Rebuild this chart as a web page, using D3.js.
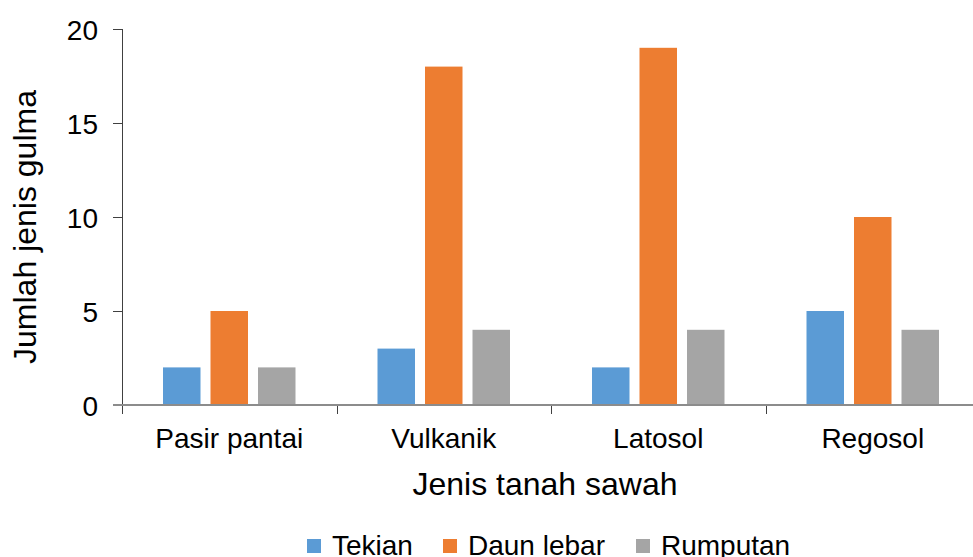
<!DOCTYPE html>
<html>
<head>
<meta charset="utf-8">
<script src="https://cdn.jsdelivr.net/npm/d3@7"></script>
<style>
  body { margin: 0; background: #fff; }
  svg text { font-family: "Liberation Sans", Arial, sans-serif; fill: #000; }
</style>
</head>
<body>
<div id="chart"></div>
<script>
// data
var categories = ["Pasir pantai", "Vulkanik", "Latosol", "Regosol"];
var seriesNames = ["Tekian", "Daun lebar", "Rumputan"];
var tekian = [2, 3, 2, 5];
var daunLebar = [5, 18, 19, 10];
var rumputan = [2, 4, 4, 4];
var yTicks = [0, 5, 10, 15, 20];
var colors = ["#5B9BD5", "#ED7D31", "#A5A5A5"];

var svgWidth = 973;
var svgHeight = 557;
var margin = {top: 29, left: 122, bottom: 152};
var plotBottom = svgHeight - margin.bottom; // 405

var svg = d3.select("#chart")
  .append("svg")
  .attr("width", svgWidth)
  .attr("height", svgHeight);

// build rows for the bars
var rows = [];
categories.forEach(function(c, i) {
  rows.push({cat: c, series: seriesNames[0], value: tekian[i]});
  rows.push({cat: c, series: seriesNames[1], value: daunLebar[i]});
  rows.push({cat: c, series: seriesNames[2], value: rumputan[i]});
});

// scales
var xScale = d3.scaleBand()
  .domain(categories)
  .range([margin.left, margin.left + 4 * 214.5]);

var groupWidth = 132.5;
var xInner = d3.scaleBand()
  .domain(seriesNames)
  .range([0, groupWidth])
  .paddingInner(0.2105)
  .paddingOuter(0);

var yScale = d3.scaleLinear()
  .domain([0, 20])
  .range([plotBottom, margin.top]);

var colorScale = d3.scaleOrdinal()
  .domain(seriesNames)
  .range(colors);

// bars
svg.append("g")
  .selectAll("rect")
  .data(rows)
  .enter()
  .append("rect")
  .attr("x", function(d) {
    return xScale(d.cat) + xScale.bandwidth() / 2 - groupWidth / 2 + xInner(d.series);
  })
  .attr("y", function(d) { return yScale(d.value); })
  .attr("width", xInner.bandwidth())
  .attr("height", function(d) { return plotBottom - yScale(d.value); })
  .attr("fill", function(d) { return colorScale(d.series); });

// y axis
var yAxis = d3.axisLeft(yScale)
  .tickValues(yTicks)
  .tickSize(9)
  .tickPadding(15);

var gY = svg.append("g")
  .attr("transform", "translate(" + margin.left + ",0)")
  .call(yAxis);
gY.select(".domain").attr("stroke", "#404040").attr("d", "M0.5," + margin.top + "V" + plotBottom);
gY.selectAll(".tick line").attr("stroke", "#404040");
gY.selectAll(".tick text")
  .attr("font-size", 28)
  .attr("dy", "0.36em")
  .style("font-family", "'Liberation Sans', Arial, sans-serif");

// x axis: ticks between categories
var bounds = [];
categories.forEach(function(c) { bounds.push(xScale(c)); });
svg.append("g")
  .selectAll("line")
  .data(bounds)
  .enter()
  .append("line")
  .attr("x1", function(d) { return Math.round(d) + 0.5; })
  .attr("x2", function(d) { return Math.round(d) + 0.5; })
  .attr("y1", plotBottom)
  .attr("y2", plotBottom + 9)
  .attr("stroke", "#404040");

svg.append("line")
  .attr("x1", margin.left - 9)
  .attr("x2", svgWidth)
  .attr("y1", plotBottom)
  .attr("y2", plotBottom)
  .attr("stroke", "#8C8C8C")
  .attr("stroke-width", 2);

// category labels
svg.append("g")
  .selectAll("text")
  .data(categories)
  .enter()
  .append("text")
  .attr("x", function(d) { return xScale(d) + xScale.bandwidth() / 2; })
  .attr("y", 448)
  .attr("text-anchor", "middle")
  .attr("font-size", 28)
  .text(function(d) { return d; });

// axis titles
svg.append("text")
  .attr("x", 545)
  .attr("y", 495)
  .attr("text-anchor", "middle")
  .attr("font-size", 32)
  .text("Jenis tanah sawah");

svg.append("text")
  .attr("transform", "translate(36,227) rotate(-90)")
  .attr("text-anchor", "middle")
  .attr("font-size", 32)
  .text("Jumlah jenis gulma");

// legend
var legendX = [307, 443, 636];
var legend = svg.append("g")
  .selectAll("g")
  .data(seriesNames)
  .enter()
  .append("g")
  .attr("transform", function(d, i) { return "translate(" + legendX[i] + ",0)"; });

legend.append("rect")
  .attr("x", 0)
  .attr("y", 539)
  .attr("width", 14)
  .attr("height", 14)
  .attr("fill", function(d) { return colorScale(d); });

legend.append("text")
  .attr("x", 25)
  .attr("y", 555)
  .attr("font-size", 28)
  .text(function(d) { return d; });
</script>
</body>
</html>
